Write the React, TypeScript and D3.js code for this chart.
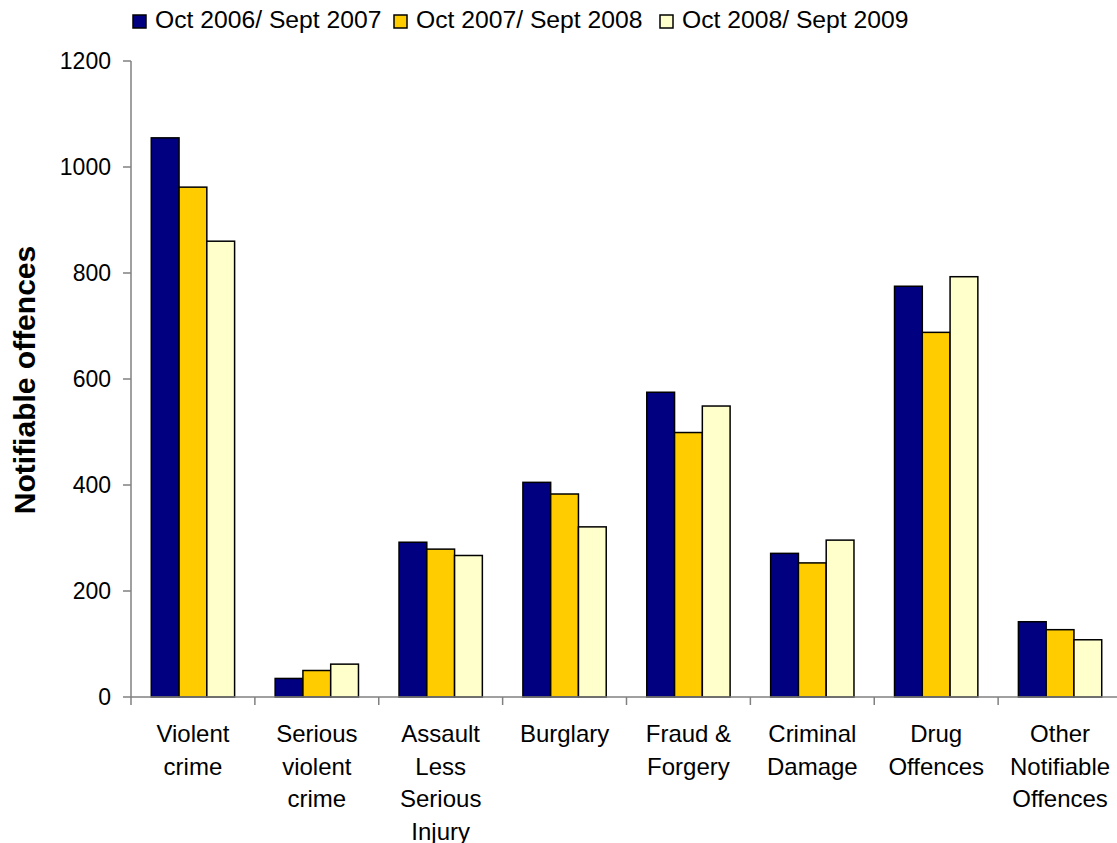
import React, { useEffect, useRef } from 'react';
import * as d3 from 'd3';

const categories = [
  'Violent crime',
  'Serious violent crime',
  'Assault Less Serious Injury',
  'Burglary',
  'Fraud & Forgery',
  'Criminal Damage',
  'Drug Offences',
  'Other Notifiable Offences',
];
// label line breaks as in the original axis
const categoryLines = [
  ['Violent', 'crime'],
  ['Serious', 'violent', 'crime'],
  ['Assault', 'Less', 'Serious', 'Injury'],
  ['Burglary'],
  ['Fraud &', 'Forgery'],
  ['Criminal', 'Damage'],
  ['Drug', 'Offences'],
  ['Other', 'Notifiable', 'Offences'],
];
const seriesNames = ['Oct 2006/ Sept 2007', 'Oct 2007/ Sept 2008', 'Oct 2008/ Sept 2009'];
const series0607 = [1055, 35, 292, 405, 575, 271, 775, 142];
const series0708 = [962, 50, 279, 383, 499, 253, 688, 127];
const series0809 = [860, 62, 267, 321, 549, 296, 793, 108];
const yTicks = [0, 200, 400, 600, 800, 1000, 1200];
const colors = ['#000080', '#FFCC00', '#FFFFCC'];

export default function App() {
  const svgRef = useRef<SVGSVGElement>(null);

  useEffect(() => {
    const w = 1117;
    const h = 843;
    const svg = d3.select(svgRef.current)
      .attr('width', w)
      .attr('height', h)
      .style('font-family', 'Arial, "Liberation Sans", sans-serif');
    svg.selectAll('*').remove();

    const left = 131, right = 1122, top = 61, bottom = 697;
    const values = [series0607, series0708, series0809];

    const x = d3.scaleBand<string>().domain(categories).range([left, right]).padding(0);
    const xs = d3.scaleBand<string>().domain(seriesNames).range([0, x.bandwidth()])
      .paddingInner(0).paddingOuter(0.73);
    const y = d3.scaleLinear().domain([0, 1200]).range([bottom, top]);

    const axisColor = '#808080';

    // y axis
    svg.append('line')
      .attr('x1', left).attr('x2', left).attr('y1', top).attr('y2', bottom)
      .attr('stroke', axisColor).attr('stroke-width', 1.5);
    svg.selectAll('.ytick').data(yTicks).enter().append('line')
      .attr('x1', left - 8).attr('x2', left)
      .attr('y1', d => y(d)).attr('y2', d => y(d))
      .attr('stroke', axisColor).attr('stroke-width', 1.5);
    svg.selectAll('.ylab').data(yTicks).enter().append('text')
      .attr('x', 111).attr('y', d => y(d)).attr('dy', '0.35em')
      .attr('text-anchor', 'end').attr('font-size', 23).attr('fill', '#000')
      .text(d => d);

    // bars
    seriesNames.forEach((s, si) => {
      svg.append('g').selectAll('rect').data(values[si]).enter().append('rect')
        .attr('x', (d, i) => (x(categories[i]) as number) + (xs(s) as number))
        .attr('width', xs.bandwidth())
        .attr('y', d => y(d))
        .attr('height', d => bottom - y(d))
        .attr('fill', colors[si])
        .attr('stroke', '#000').attr('stroke-width', 1.5);
    });

    // x axis
    svg.append('line')
      .attr('x1', left).attr('x2', right).attr('y1', bottom).attr('y2', bottom)
      .attr('stroke', axisColor).attr('stroke-width', 1.5);
    const edges = categories.map(c => x(c) as number).concat([right]);
    svg.selectAll('.xtick').data(edges).enter().append('line')
      .attr('x1', d => d).attr('x2', d => d).attr('y1', bottom).attr('y2', bottom + 8)
      .attr('stroke', axisColor).attr('stroke-width', 1.5);

    categoryLines.forEach((lines, i) => {
      const cx = (x(categories[i]) as number) + x.bandwidth() / 2;
      const t = svg.append('text')
        .attr('text-anchor', 'middle').attr('font-size', 24).attr('fill', '#000');
      lines.forEach((ln, li) => {
        t.append('tspan').attr('x', cx).attr('y', 742 + li * 32.5).text(ln);
      });
    });

    // y title
    svg.append('text')
      .attr('transform', `translate(35,${380}) rotate(-90)`)
      .attr('text-anchor', 'middle')
      .attr('font-size', 30).attr('font-weight', 'bold').attr('fill', '#000')
      .text('Notifiable offences');

    // legend
    const legendX = [133, 394, 660];
    seriesNames.forEach((s, si) => {
      const g = svg.append('g').attr('transform', `translate(${legendX[si]},0)`);
      g.append('rect').attr('x', 0).attr('y', 15).attr('width', 13).attr('height', 13)
        .attr('fill', colors[si]).attr('stroke', '#000').attr('stroke-width', 1.5);
      g.append('text').attr('x', 22).attr('y', 28).attr('font-size', 24.7).attr('fill', '#000')
        .text(s);
    });
  }, []);

  return (
    <div style={{ position: 'absolute', left: 0, top: 0 }}>
      <svg ref={svgRef} style={{ display: 'block' }} />
    </div>
  );
}
